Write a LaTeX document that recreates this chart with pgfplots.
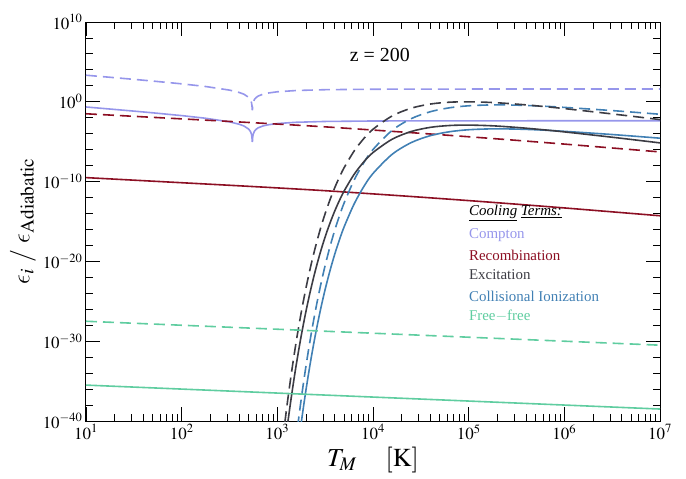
\documentclass[border=0pt]{standalone}
\usepackage{mathptmx}
\usepackage{fontspec}
\setmainfont{Liberation Serif}
\usepackage{pgfplots}
\usepackage{pgfplotstable}
\pgfplotsset{compat=1.18}
\DeclareSymbolFont{cmletters}{OML}{cmm}{m}{it}
\DeclareMathSymbol{\lepsilon}{\mathord}{cmletters}{"0F}

\definecolor{compton}{RGB}{150,150,235}
\definecolor{recomb}{RGB}{140,15,35}
\definecolor{excit}{RGB}{60,60,68}
\definecolor{coll}{RGB}{65,128,180}
\definecolor{ff}{RGB}{95,205,160}

% Compton: T, log10 solid, log10 dashed
\pgfplotstableread{
T s d
10 -0.649 3.331
20 -0.959 3.021
31.62 -1.167 2.813
50 -1.382 2.598
100 -1.729 2.251
177.8 -2.062 1.918
316.2 -2.515 1.465
398.1 -2.805 1.175
446.7 -3.026 0.954
501.2 -3.413 0.567
524.8 -3.740 0.240
537.0 -4.081 -0.101
543.0 -4.443 -0.463
546.2 -4.941 -0.961
549.2 -4.944 -0.964
552 -4.489 -0.509
558.5 -4.094 -0.114
575.4 -3.698 0.282
600 -3.440 0.540
631 -3.259 0.721
708 -3.025 0.955
794.3 -2.888 1.092
1000 -2.725 1.255
1585 -2.564 1.416
3162 -2.463 1.517
10000 -2.405 1.575
31620 -2.388 1.592
100000 -2.382 1.598
1000000 -2.380 1.600
10000000 -2.380 1.600
}\compton

% Recombination: log10 T, log10 solid, log10 dashed
\pgfplotstableread{
lt s d
1.0 -9.50 -1.50
1.5 -9.82 -1.82
2.0 -10.14 -2.14
2.5 -10.46 -2.46
3.0 -10.79 -2.79
3.5 -11.14 -3.14
4.0 -11.54 -3.54
4.5 -11.95 -3.95
5.0 -12.38 -4.38
5.5 -12.83 -4.83
6.0 -13.30 -5.30
6.5 -13.79 -5.79
7.0 -14.28 -6.28
}\recomb

% Excitation
\pgfplotstableread{
lt s d
3.00 -51.54 -48.62
3.05 -46.00 -43.08
3.10 -41.07 -38.15
3.15 -36.69 -33.77
3.20 -32.78 -29.86
3.25 -29.31 -26.39
3.30 -26.22 -23.30
3.35 -23.47 -20.55
3.40 -21.03 -18.11
3.45 -18.85 -15.93
3.50 -16.92 -14.00
3.55 -15.21 -12.29
3.60 -13.69 -10.77
3.65 -12.34 -9.42
3.70 -11.14 -8.22
3.80 -9.14 -6.22
3.90 -7.58 -4.66
4.00 -6.36 -3.44
4.20 -4.69 -1.77
4.40 -3.72 -0.80
4.60 -3.20 -0.28
4.80 -2.97 -0.05
5.00 -2.92 0.00
5.25 -3.01 -0.09
5.50 -3.21 -0.29
5.75 -3.47 -0.55
6.00 -3.77 -0.85
6.50 -4.44 -1.52
7.00 -5.15 -2.23
}\excit

% Collisional ionization
\pgfplotstableread{
lt s d
3.15 -50.15 -47.15
3.20 -44.90 -41.90
3.25 -40.23 -37.23
3.30 -36.07 -33.07
3.35 -32.36 -29.36
3.40 -29.06 -26.06
3.45 -26.12 -23.12
3.50 -23.50 -20.50
3.55 -21.18 -18.18
3.60 -19.10 -16.10
3.65 -17.26 -14.26
3.70 -15.62 -12.62
3.80 -12.87 -9.87
3.90 -10.70 -7.70
4.00 -8.98 -5.98
4.20 -6.58 -3.58
4.40 -5.11 -2.11
4.60 -4.24 -1.24
4.80 -3.75 -0.75
5.00 -3.50 -0.50
5.25 -3.39 -0.39
5.50 -3.42 -0.42
5.75 -3.53 -0.53
6.00 -3.70 -0.70
6.50 -4.10 -1.10
7.00 -4.56 -1.56
}\coll

% Free-free
\pgfplotstableread{
lt s d
1.0 -35.5 -27.5
4.0 -37.0 -29.0
7.0 -38.5 -30.5
}\ff

\begin{document}
\begin{tikzpicture}
\useasboundingbox (-86bp,-58bp) rectangle (600bp,421bp);
\begin{axis}[
  at={(0,0)}, anchor=south west,
  scale only axis, width=574bp, height=399bp,
  xmode=log, ymode=log,
  xmin=10, xmax=1e7, ymin=1e-40, ymax=1e10,
  xtick={1e1,1e2,1e3,1e4,1e5,1e6,1e7},
  ytick={1e-40,1e-30,1e-20,1e-10,1,1e10},
  minor ytick={1e-38,1e-36,1e-34,1e-32,1e-28,1e-26,1e-24,1e-22,1e-18,1e-16,1e-14,1e-12,1e-8,1e-6,1e-4,1e-2,1e2,1e4,1e6,1e8},
  tick align=inside,
  major tick length=14bp, minor tick length=7bp,
  every tick/.style={black, line width=0.9bp},
  axis line style={black, line width=1bp},
  ticklabel style={font=\fontsize{17}{17}\selectfont},
  xlabel={$T_M\quad\,[\mathrm{K}]$},
  ylabel={$\lepsilon_i\ /\ \lepsilon_{\mathrm{Adiabatic}}$},
  label style={font=\fontsize{26}{26}\selectfont},
  xlabel style={yshift=-1bp},
]
\addplot[compton, line width=1.6bp] table[x=T, y expr=10^(\thisrow{s})] {\compton};
\addplot[compton, line width=1.6bp, dash pattern=on 11bp off 6bp] table[x=T, y expr=10^(\thisrow{d})] {\compton};

\addplot[recomb, line width=1.6bp, smooth] table[x expr=10^(\thisrow{lt}), y expr=10^(\thisrow{s})] {\recomb};
\addplot[recomb, line width=1.6bp, smooth, dash pattern=on 11bp off 6bp] table[x expr=10^(\thisrow{lt}), y expr=10^(\thisrow{d})] {\recomb};

\addplot[coll, line width=1.6bp, smooth] table[x expr=10^(\thisrow{lt}), y expr=10^(\thisrow{s})] {\coll};
\addplot[coll, line width=1.6bp, smooth, dash pattern=on 11bp off 6bp] table[x expr=10^(\thisrow{lt}), y expr=10^(\thisrow{d})] {\coll};

\addplot[excit, line width=1.6bp, smooth] table[x expr=10^(\thisrow{lt}), y expr=10^(\thisrow{s})] {\excit};
\addplot[excit, line width=1.6bp, smooth, dash pattern=on 11bp off 6bp] table[x expr=10^(\thisrow{lt}), y expr=10^(\thisrow{d})] {\excit};

\addplot[ff, line width=1.6bp] table[x expr=10^(\thisrow{lt}), y expr=10^(\thisrow{s})] {\ff};
\addplot[ff, line width=1.6bp, dash pattern=on 11bp off 6bp] table[x expr=10^(\thisrow{lt}), y expr=10^(\thisrow{d})] {\ff};

\node[font=\fontsize{20}{20}\selectfont] at (rel axis cs:0.512,0.917) {z = 200};
\begin{scope}[every node/.style={anchor=west, font=\fontsize{15}{15}\selectfont, inner sep=0pt}]
\node at (rel axis cs:0.667,0.521) {\underline{\textit{Cooling}} \underline{\textit{Terms:}}};
\node[text=compton] at (rel axis cs:0.667,0.466) {Compton};
\node[text=recomb] at (rel axis cs:0.667,0.416) {Recombination};
\node[text=excit] at (rel axis cs:0.667,0.366) {Excitation};
\node[text=coll] at (rel axis cs:0.667,0.313) {Collisional Ionization};
\node[text=ff] at (rel axis cs:0.667,0.263) {Free$-$free};
\end{scope}
\end{axis}
\end{tikzpicture}
\end{document}
